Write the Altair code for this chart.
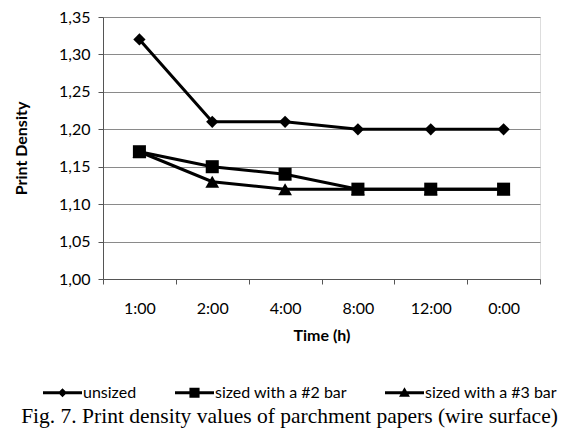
import altair as alt
import pandas as pd

times = ["1:00", "2:00", "4:00", "8:00", "12:00", "0:00"]
series_names = ["unsized", "sized with a #2 bar", "sized with a #3 bar"]
unsized = [1.32, 1.21, 1.21, 1.20, 1.20, 1.20]
bar2 = [1.17, 1.15, 1.14, 1.12, 1.12, 1.12]
bar3 = [1.17, 1.13, 1.12, 1.12, 1.12, 1.12]
y_ticks = [1.00, 1.05, 1.10, 1.15, 1.20, 1.25, 1.30, 1.35]

rows = []
for name, vals in [(series_names[2], bar3), (series_names[1], bar2), (series_names[0], unsized)]:
    for t, v in zip(times, vals):
        rows.append({"time": t, "value": v, "series": name})
df = pd.DataFrame(rows)

FONT = "Lato"

x_enc = alt.X(
    "time:N",
    sort=times,
    scale=alt.Scale(paddingInner=0, paddingOuter=0),
    axis=alt.Axis(
        title="Time (h)", titleFont=FONT, titleFontSize=16, titleFontWeight="bold",
        titleColor="black", titlePadding=11,
        labelAngle=0, labelFont=FONT, labelFontSize=16, labelColor="black",
        labelPadding=16, tickBand="extent", tickSize=5, tickColor="#555555",
        domainColor="#555555", grid=False,
    ),
)
y_enc = alt.Y(
    "value:Q",
    scale=alt.Scale(domain=[1.0, 1.35], nice=False, zero=False),
    axis=alt.Axis(
        title="Print Density", titleFont=FONT, titleFontSize=16, titleFontWeight="bold",
        titleColor="black", titlePadding=29,
        values=y_ticks, labelExpr="replace(format(datum.value, '.2f'), '.', ',')",
        labelFont=FONT, labelFontSize=16, labelColor="black", labelPadding=8,
        tickSize=5, tickColor="#555555", domainColor="#555555",
        grid=True, gridColor="#8a8a8a", gridWidth=1.2,
    ),
)

lines = alt.Chart(df).mark_line(color="black", strokeWidth=3).encode(
    x=x_enc, y=y_enc, detail="series:N"
)

points = alt.Chart(df).mark_point(filled=True, color="black", opacity=1).encode(
    x=x_enc, y=y_enc,
    shape=alt.Shape(
        "series:N",
        scale=alt.Scale(domain=series_names, range=["diamond", "square", "triangle-up"]),
        legend=None,
    ),
    size=alt.Size(
        "series:N",
        scale=alt.Scale(domain=series_names, range=[150, 190, 150]),
        legend=None,
    ),
)

legend_paths = [
    "M-1,-0.08H1V0.08H-1Z M0,-0.23L0.23,0L0,0.23L-0.23,0Z",
    "M-1,-0.08H1V0.08H-1Z M-0.26,-0.26H0.26V0.26H-0.26Z",
    "M-1,-0.08H1V0.08H-1Z M-0.28,0.2L0,-0.28L0.28,0.2Z",
]

legend_layer = alt.Chart(df).transform_filter(
    alt.datum.series == "__none__"
).mark_point(filled=True, color="black", size=1521).encode(
    x=x_enc, y=y_enc,
    shape=alt.Shape(
        "series:N",
        scale=alt.Scale(domain=series_names, range=legend_paths),
        legend=alt.Legend(
            title=None, orient="none", direction="horizontal",
            legendX=-60, legendY=356, columns=3, columnPadding=38,
            symbolSize=1521, symbolFillColor="black", symbolStrokeWidth=0,
            symbolOpacity=1, labelOffset=1, labelFont=FONT, labelFontSize=16,
            labelColor="black",
        ),
    ),
)

chart = (
    alt.layer(lines, points, legend_layer)
    .resolve_scale(shape="independent", size="independent")
    .properties(
        width=437, height=262,
        autosize=alt.AutoSizeParams(type="none"),
        padding={"left": 103, "top": 17, "right": 28, "bottom": 152},
        title=alt.Title(
            "Fig. 7. Print density values of parchment papers (wire surface)",
            orient="bottom", anchor="middle", font="Liberation Serif",
            fontSize=21.5, fontWeight="normal", color="black", offset=5, dx=-32,
        ),
    )
    .configure_view(stroke=None)
    .configure(background="white")
)

chart.save("out.html", embed_options={"renderer": "svg", "actions": False})
